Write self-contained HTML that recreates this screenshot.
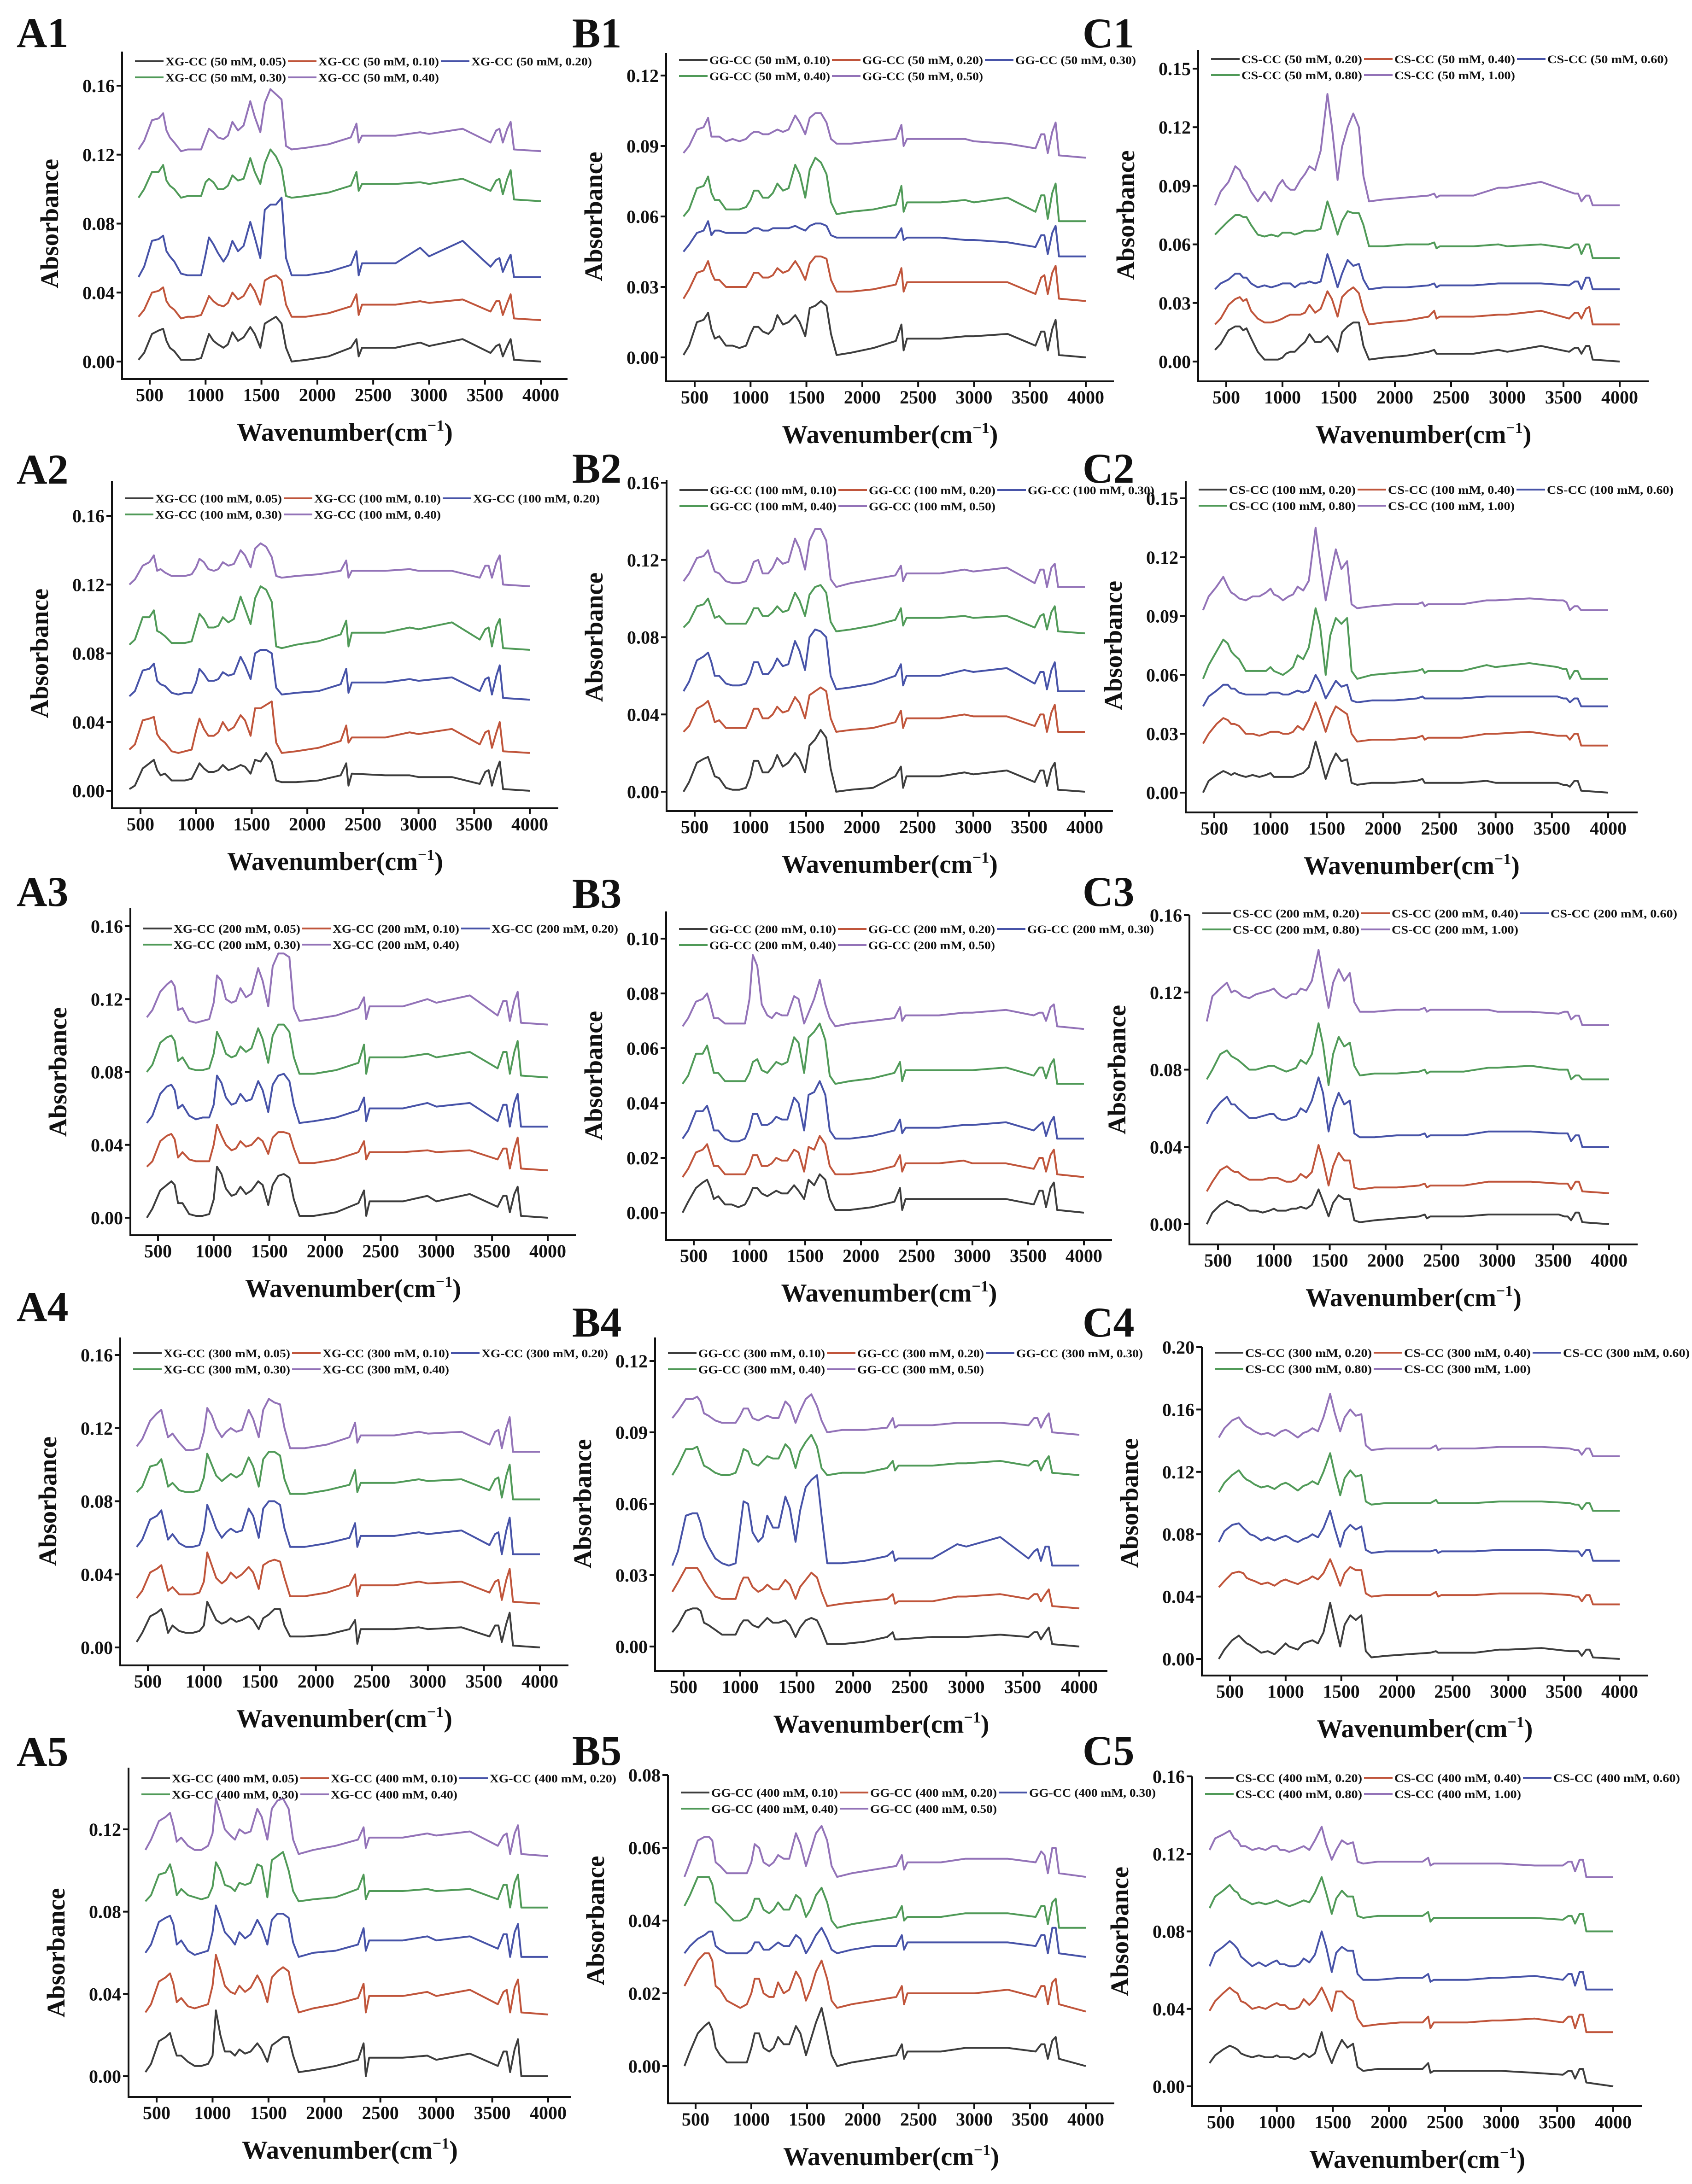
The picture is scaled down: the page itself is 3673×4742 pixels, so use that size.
<!DOCTYPE html>
<html><head><meta charset="utf-8"><title>FTIR spectra</title>
<style>html,body{margin:0;padding:0;background:#fff}svg{display:block}text{font-family:"Liberation Serif",serif;font-weight:bold;fill:#111}</style>
</head><body>
<svg id="fig" xmlns="http://www.w3.org/2000/svg" width="3673" height="4742" viewBox="0 0 3673 4742">
<rect x="0" y="0" width="3673" height="4742" fill="#fff"/>
</svg>
<script>
// wavenumber grid (cm-1)
const W=[400,450,520,580,620,650,680,720,780,840,900,960,1000,1030,1070,1110,1160,1200,1240,1290,1340,1400,1440,1490,1530,1580,1630,1680,1720,1770,1900,2100,2300,2350,2370,2400,2700,2920,3000,3300,3550,3600,3630,3660,3700,3730,3760,4000];
const xTicks=[500,1000,1500,2000,2500,3000,3500,4000];
// absorbance values in units of 0.001
const A1_k=[1,5,16,18,19,12,8,6,1,1,1,2,10,16,12,10,8,10,17,12,14,20,16,8,22,24,26,22,8,0,1,3,8,13,3,8,8,11,9,13,5,9,10,3,9,13,1,0];
const A1_r=[26,30,40,41,43,35,32,30,25,26,26,27,33,38,35,33,32,34,40,36,38,45,41,33,47,49,50,47,33,26,26,28,32,39,27,33,33,35,34,36,29,35,35,27,34,39,25,24];
const A1_b=[49,55,70,71,73,64,61,58,51,50,50,50,62,72,68,63,58,62,70,64,67,81,72,60,88,91,91,95,60,50,50,52,56,64,50,57,57,66,61,70,55,59,60,52,58,62,49,49];
const A1_g=[95,100,110,110,114,105,102,100,95,96,96,96,104,106,104,100,100,102,108,105,106,118,110,103,115,123,119,112,96,95,96,98,102,110,99,103,103,104,103,106,99,105,106,97,106,111,94,93];
const A1_p=[123,128,140,141,144,134,130,127,122,123,123,123,130,135,133,130,129,131,139,134,137,151,142,133,150,158,155,152,125,123,124,126,130,138,127,131,131,133,132,135,127,134,135,127,135,139,123,122];
const A2_k=[1,3,13,16,18,12,9,10,6,6,6,7,12,16,13,11,11,12,15,12,13,15,14,10,18,17,22,17,6,5,5,6,9,16,3,10,9,9,8,8,4,11,12,3,12,17,1,0];
const A2_r=[24,27,41,42,43,33,30,28,23,22,23,24,35,42,36,32,32,34,40,35,37,44,41,32,48,48,50,52,28,22,23,25,29,38,28,31,31,34,33,36,27,34,35,25,34,40,23,22];
const A2_b=[55,58,70,71,74,64,62,61,57,56,57,57,63,71,68,64,64,65,69,67,68,78,73,65,80,82,82,80,60,56,57,58,62,71,57,63,63,65,64,66,58,65,66,56,67,73,54,53];
const A2_g=[85,88,101,101,105,93,92,90,86,86,86,87,96,103,100,95,95,96,101,98,100,113,106,97,112,119,117,110,84,83,85,87,91,99,84,92,92,95,94,98,88,94,95,84,96,100,83,82];
const A2_p=[120,123,131,133,137,128,129,127,125,125,125,126,130,135,133,129,128,129,133,131,132,140,137,130,141,144,142,136,125,124,125,126,128,134,124,128,128,129,128,128,124,131,131,124,133,137,120,119];
const A3_k=[0,5,15,18,20,18,8,8,2,1,1,2,10,28,24,16,12,13,17,13,15,20,18,7,18,23,24,22,10,1,1,3,8,15,1,9,9,12,9,13,6,12,12,3,13,17,1,0];
const A3_r=[28,31,42,45,46,43,33,36,32,31,31,31,40,51,45,40,37,38,42,39,40,44,42,35,44,47,47,46,38,30,30,32,36,42,32,36,36,37,36,37,32,38,38,27,38,44,27,26];
const A3_b=[52,56,68,72,73,70,60,62,56,54,55,55,62,78,74,66,62,63,68,64,65,75,70,58,73,78,79,75,62,52,53,55,59,66,53,60,60,63,61,63,53,62,62,50,63,68,50,50];
const A3_g=[80,84,96,99,100,97,86,88,82,81,81,82,90,102,97,90,88,89,94,91,93,104,98,85,100,106,106,102,88,79,79,81,85,95,79,88,88,90,88,91,82,91,91,79,91,97,78,77];
const A3_p=[110,114,124,128,130,127,114,115,108,107,108,109,118,133,130,120,118,119,126,121,123,137,130,116,138,145,145,143,115,108,109,111,115,121,109,116,116,120,118,122,111,119,119,108,119,124,107,106];
const A4_k=[3,8,17,19,21,16,8,12,9,8,8,9,12,25,20,15,13,14,16,14,15,17,15,10,16,18,21,21,12,6,6,7,10,15,2,10,10,11,10,11,6,12,12,3,13,19,1,0];
const A4_r=[27,31,41,43,45,38,31,33,29,29,29,30,36,52,45,38,35,37,41,38,40,44,41,32,45,47,48,47,38,28,28,30,34,40,28,34,34,36,35,36,30,36,37,26,37,43,25,24];
const A4_b=[55,59,70,72,75,67,59,62,57,55,55,56,64,78,72,65,60,63,65,63,64,76,72,60,76,80,80,78,65,55,55,57,60,68,55,61,61,63,62,64,56,62,63,51,64,71,51,51];
const A4_g=[85,88,99,100,103,96,88,90,86,85,85,86,93,106,100,94,91,93,95,93,95,104,99,88,103,107,107,105,92,84,84,86,89,97,85,90,90,92,91,92,86,92,93,82,94,100,81,81];
const A4_p=[110,114,124,128,130,122,115,117,112,108,108,109,118,131,127,120,115,118,120,118,119,130,125,115,130,136,134,133,120,109,109,111,115,123,112,116,116,118,117,118,111,118,119,109,120,126,107,107];
const A5_k=[2,6,17,19,21,15,10,10,7,5,5,6,10,32,20,12,12,10,13,11,12,16,13,7,15,17,19,19,10,2,3,5,8,16,0,9,9,10,8,11,5,12,12,2,13,18,0,0];
const A5_r=[31,35,46,48,50,45,36,38,34,33,34,35,44,59,52,44,41,40,44,41,43,49,45,36,48,51,53,51,40,31,33,35,38,45,31,39,39,41,39,42,35,41,42,31,43,47,31,30];
const A5_b=[60,64,75,77,78,74,64,66,61,59,60,61,70,83,77,70,67,64,70,67,69,76,72,64,76,79,79,77,65,58,60,61,64,72,61,66,66,68,66,68,62,69,69,58,70,74,58,58];
const A5_g=[85,88,98,99,103,97,88,91,88,87,86,87,92,104,100,93,92,90,94,93,94,103,102,87,105,107,109,100,90,85,86,87,91,98,86,90,90,91,90,91,86,93,93,82,94,98,82,82];
const A5_p=[110,115,124,126,128,122,114,116,112,110,110,112,118,135,128,120,117,115,120,118,119,130,126,115,130,134,135,130,115,108,110,112,115,121,111,116,116,118,117,119,112,117,118,108,118,122,108,107];
const B1_k=[1,5,15,16,19,12,8,9,5,5,4,5,10,13,13,11,10,12,18,14,15,18,15,9,21,22,24,22,10,1,2,4,7,14,3,8,8,9,9,10,5,11,11,3,12,16,1,0];
const B1_r=[25,29,36,37,41,36,33,33,30,30,30,30,33,36,36,34,34,35,38,36,37,41,38,33,40,43,43,42,33,28,28,29,31,38,28,32,32,32,32,32,27,34,35,27,36,39,25,24];
const B1_b=[45,48,53,54,58,52,54,54,53,53,53,53,54,55,55,54,54,55,55,55,55,56,55,54,56,57,57,56,52,51,51,51,51,55,50,51,51,50,50,49,47,52,52,44,53,56,43,43];
const B1_g=[60,63,72,73,77,70,67,67,63,63,63,64,67,71,71,68,68,70,74,71,72,82,78,68,80,85,83,78,66,61,62,63,65,73,62,66,66,67,66,68,62,69,69,59,70,74,58,58];
const B1_p=[87,90,97,98,102,94,94,94,92,93,92,93,95,96,96,95,95,96,97,96,97,103,100,95,102,104,104,100,93,91,91,92,93,99,90,93,93,93,92,91,89,95,95,87,96,100,86,85];
const B2_k=[0,5,15,17,18,13,8,7,2,1,1,2,8,16,16,10,10,13,19,13,15,20,17,10,24,27,32,28,12,0,1,2,8,13,2,8,8,10,9,11,5,11,11,3,12,15,1,0];
const B2_r=[31,34,43,45,47,42,36,37,33,33,33,33,38,43,43,38,38,40,44,41,42,49,46,38,50,52,54,52,38,31,32,33,36,42,33,38,38,40,39,39,34,40,40,31,41,45,31,31];
const B2_b=[52,57,68,70,72,67,60,60,56,55,55,56,61,67,67,61,61,64,69,65,66,78,73,63,80,84,83,80,60,53,54,56,60,66,55,60,60,63,62,64,56,62,62,53,63,67,52,52];
const B2_g=[85,88,96,97,100,95,90,91,87,87,87,87,91,95,95,91,91,93,96,93,94,103,99,91,102,106,107,103,88,83,84,86,89,95,86,90,90,91,90,91,85,91,92,84,93,96,83,82];
const B2_p=[109,113,121,122,125,119,114,113,109,108,108,109,114,119,120,113,113,116,121,118,119,131,126,115,130,136,136,130,110,106,108,110,112,117,109,113,113,115,114,116,108,115,115,106,116,118,106,106];
const B3_k=[0,4,9,11,12,9,5,6,3,3,2,3,6,9,9,7,6,7,8,7,7,10,8,5,12,10,14,12,5,1,1,2,4,9,1,5,5,5,5,5,3,8,8,2,9,11,1,0];
const B3_r=[13,16,22,23,25,21,17,17,14,14,14,14,17,21,21,17,17,18,20,19,19,23,22,15,24,23,28,25,17,14,14,15,17,21,15,18,18,19,18,18,16,20,20,15,21,23,14,13];
const B3_b=[27,30,37,37,39,35,30,30,27,26,26,27,31,36,36,32,32,33,35,34,34,42,40,30,43,44,48,43,30,27,27,28,30,34,29,31,31,32,32,33,30,32,33,28,33,35,27,27];
const B3_g=[47,50,58,58,61,56,51,51,48,48,48,48,51,55,56,52,51,53,55,54,55,64,62,51,64,66,69,63,50,47,48,49,51,55,48,52,52,52,52,53,50,53,53,49,54,56,47,47];
const B3_p=[68,71,77,78,80,76,71,71,69,69,69,69,78,94,90,76,72,71,73,72,72,79,78,69,73,78,85,76,71,68,69,70,71,75,70,72,72,73,73,74,72,73,73,70,75,76,68,67];
const B4_k=[6,9,15,16,16,15,10,9,7,5,5,5,9,11,11,9,8,10,12,10,10,11,9,4,8,11,12,11,7,1,1,2,4,6,3,3,4,4,4,5,4,6,6,3,6,8,1,0];
const B4_r=[23,27,33,33,33,31,28,25,21,20,20,20,26,29,29,25,23,24,26,24,24,28,26,20,25,28,31,29,23,17,18,19,20,22,18,19,19,21,21,22,20,22,22,19,22,24,17,16];
const B4_b=[34,40,55,56,56,52,46,42,37,35,34,35,50,61,60,48,44,46,55,50,50,63,58,44,57,67,70,72,55,35,35,36,38,40,36,37,37,43,42,46,37,40,41,36,42,42,34,34];
const B4_g=[72,76,83,83,84,80,76,75,73,72,72,73,78,83,82,77,76,78,80,79,79,85,83,75,82,86,89,84,75,72,73,73,75,78,74,76,76,77,77,78,76,78,78,74,78,80,73,72];
const B4_p=[96,99,104,104,105,103,98,97,95,94,94,94,97,100,100,96,95,96,97,96,96,103,101,94,99,104,106,101,95,90,91,91,92,96,92,93,93,94,94,94,93,96,96,92,96,98,90,89];
const B5_k=[0,4,9,11,12,10,5,3,1,1,1,1,5,9,9,5,4,5,8,6,6,11,9,3,7,12,16,9,3,0,1,2,3,6,2,4,4,5,5,5,4,6,6,2,7,8,2,0];
const B5_r=[22,25,29,31,31,29,22,21,18,17,16,17,20,24,24,20,19,19,23,20,21,26,24,18,21,26,29,24,18,16,17,18,19,22,17,20,20,20,20,21,19,22,22,17,23,24,17,15];
const B5_b=[31,33,35,36,37,37,33,32,31,31,31,31,32,34,34,32,32,33,34,33,33,36,35,31,33,36,38,35,32,31,32,33,33,36,32,34,34,34,34,34,33,36,36,31,38,38,31,30];
const B5_g=[44,47,52,52,52,50,45,44,42,40,40,41,43,46,46,43,42,43,45,43,43,47,46,41,43,47,49,45,40,38,39,40,41,44,40,41,41,42,42,42,41,44,44,39,45,46,38,38];
const B5_p=[52,56,62,63,63,62,56,55,53,53,53,53,56,61,60,56,55,56,58,57,57,64,61,55,59,64,66,62,55,52,53,54,55,58,54,56,56,57,57,57,56,59,58,53,60,60,53,52];
const C1_k=[6,9,16,18,18,16,17,12,5,1,1,1,2,4,5,5,8,10,14,10,10,13,10,5,15,18,20,20,8,1,2,3,5,6,4,4,4,6,5,8,5,7,7,4,8,8,1,0];
const C1_r=[19,22,29,32,33,31,32,26,22,20,20,21,22,23,24,24,24,25,29,25,27,36,32,23,33,36,38,35,26,19,20,21,23,26,22,23,23,24,24,26,22,25,25,22,27,28,19,19];
const C1_b=[37,40,42,45,45,43,43,40,38,39,38,39,40,40,40,38,40,40,41,40,41,55,48,38,45,52,49,50,42,37,38,38,39,40,38,39,39,40,40,40,39,41,41,37,43,43,37,37];
const C1_g=[65,68,72,75,75,74,74,70,65,64,65,64,66,66,66,65,66,67,67,67,68,82,75,65,72,77,76,76,70,59,59,60,60,61,58,59,59,60,59,60,58,60,60,55,60,60,53,53];
const C1_p=[80,87,92,100,98,94,92,87,82,87,82,90,93,90,88,88,93,96,100,98,108,137,120,93,110,120,127,120,95,82,83,84,85,86,84,85,85,89,89,92,87,86,86,82,85,85,80,80];
const C2_k=[0,6,9,11,10,9,10,9,8,9,8,9,10,8,8,8,8,8,9,10,13,26,18,7,14,20,16,17,5,4,5,5,6,7,5,5,5,6,5,5,5,4,4,3,6,6,1,0];
const C2_r=[25,30,35,38,37,35,35,34,30,30,29,30,31,31,31,30,30,31,34,32,37,46,40,31,38,44,42,40,30,26,27,27,28,29,27,28,28,30,30,31,29,29,29,27,30,30,24,24];
const C2_b=[44,49,52,55,55,53,53,51,50,50,50,50,51,51,51,50,50,51,52,51,52,60,56,48,52,57,54,55,47,46,47,47,48,49,48,48,48,49,49,49,49,48,48,46,48,48,44,44];
const C2_g=[58,65,72,78,76,72,70,68,62,62,62,62,64,62,61,60,62,64,70,68,74,94,85,60,80,89,86,89,62,58,60,61,62,63,61,62,62,65,64,66,64,63,63,58,62,62,58,58];
const C2_p=[93,100,105,110,105,102,101,99,98,100,100,102,104,101,100,98,100,101,105,103,108,135,118,98,110,124,114,118,96,94,95,96,96,97,95,96,96,98,98,99,98,98,97,93,95,95,93,93];
const C3_k=[0,6,10,12,11,10,10,9,7,7,6,7,8,7,7,7,8,8,9,8,10,18,12,4,11,15,13,13,2,1,2,3,4,5,3,4,4,5,5,5,5,4,4,2,6,6,1,0];
const C3_r=[17,22,28,30,28,27,27,25,23,23,23,24,24,24,23,22,22,23,26,24,27,41,33,20,30,37,33,33,19,18,19,19,20,21,19,20,20,22,22,22,21,21,21,18,22,22,17,16];
const C3_b=[52,58,63,66,62,62,60,58,55,55,56,57,57,55,54,54,55,56,60,58,64,76,68,48,60,68,62,64,47,45,45,46,46,47,45,46,46,48,48,48,47,47,47,43,46,46,40,40];
const C3_g=[75,80,88,90,87,86,85,83,80,80,81,82,82,81,80,79,80,81,85,83,88,104,93,72,88,97,92,94,82,77,78,78,79,80,78,79,79,81,81,82,80,80,80,75,77,77,75,75];
const C3_p=[105,118,122,125,120,121,120,118,117,119,120,121,122,120,118,117,119,119,122,121,126,142,128,112,125,132,126,130,115,110,110,111,111,112,110,111,111,111,110,110,109,110,110,106,108,108,103,103];
const C4_k=[0,6,12,15,12,10,9,7,4,5,3,7,10,8,7,6,10,11,12,10,17,36,23,8,22,28,25,28,5,1,2,3,4,5,4,4,4,6,6,7,5,5,5,2,6,6,1,0];
const C4_r=[46,50,55,56,55,52,51,50,48,49,47,50,51,50,49,48,50,51,53,51,55,64,57,47,55,59,57,57,42,40,41,41,41,43,40,41,41,42,42,42,41,40,40,37,41,41,35,35];
const C4_b=[75,82,86,87,84,82,80,79,76,78,76,78,79,78,76,75,77,78,80,78,84,95,84,72,82,86,83,85,70,68,69,69,69,70,68,69,69,70,70,70,69,69,69,66,70,70,63,63];
const C4_g=[107,113,118,121,117,115,114,112,110,111,109,112,113,112,110,108,111,112,114,112,120,132,119,105,116,121,117,118,101,99,100,100,100,102,100,100,100,101,101,101,100,99,99,96,100,100,95,95];
const C4_p=[142,148,153,155,151,149,148,146,144,145,143,146,147,146,144,142,145,146,148,146,155,170,158,146,155,160,156,157,137,134,135,135,135,137,134,135,135,136,136,136,135,134,134,131,135,135,130,130];
const C5_k=[12,16,19,21,20,19,17,16,15,16,15,15,16,15,15,15,14,15,17,15,17,28,19,12,18,24,20,22,10,8,9,9,9,12,7,8,8,8,8,7,6,8,8,4,9,9,2,0];
const C5_r=[39,44,48,51,49,48,44,43,40,41,40,42,43,42,42,40,40,41,45,42,45,51,46,39,49,49,46,44,35,31,32,33,33,36,30,33,33,34,34,35,33,36,36,30,37,37,28,28];
const C5_b=[62,69,72,75,73,71,67,65,62,64,62,64,65,63,63,62,62,63,66,64,68,80,72,59,69,72,70,70,58,55,55,56,56,58,54,55,55,56,56,57,55,58,58,52,59,59,50,50];
const C5_g=[92,98,101,104,101,100,97,96,94,95,94,95,96,95,94,93,94,95,96,95,100,108,100,89,97,101,98,98,88,87,88,88,88,90,85,87,87,87,87,87,86,88,88,84,89,89,80,80];
const C5_p=[122,128,130,132,128,127,124,124,122,123,122,124,124,122,122,121,122,123,124,122,127,134,125,117,122,127,125,126,116,115,116,116,116,118,114,115,115,115,115,114,114,116,116,111,117,117,108,108];
// y tick labels
const yt16=[0,0.04,0.08,0.12,0.16];
const yt12a=[0,0.04,0.08,0.12];
const yt12=[0,0.03,0.06,0.09,0.12];
const yt15=[0,0.03,0.06,0.09,0.12,0.15];
const yt10=[0,0.02,0.04,0.06,0.08,0.10];
const yt08=[0,0.02,0.04,0.06,0.08];
const yt20=[0,0.04,0.08,0.12,0.16,0.20];
// legend labels
const concXG=['0.05','0.10','0.20','0.30','0.40'];
const concGG=['0.10','0.20','0.30','0.40','0.50'];
const concCS=['0.20','0.40','0.60','0.80','1.00'];
const COLORS=['#3d3d3d','#c0553b','#4753a8','#509a58','#9373b8'];
const NS='http://www.w3.org/2000/svg';
const svg=document.getElementById('fig');
function el(tag,attrs,parent){const e=document.createElementNS(NS,tag);for(const k in attrs)e.setAttribute(k,attrs[k]);(parent||svg).appendChild(e);return e;}
// panel layout (pixels)
const panels=[
 {id:'A1',pre:'XG-CC',mm:50,conc:concXG,s:[A1_k,A1_r,A1_b,A1_g,A1_p],yt:yt16,L:265,X:823,y0:785,ytp:186,T:112,R:1232,x5:325,x40:1174,lg:133,lx:36,ly:102},
 {id:'A2',pre:'XG-CC',mm:100,conc:concXG,s:[A2_k,A2_r,A2_b,A2_g,A2_p],yt:yt16,L:243,X:1755,y0:1717,ytp:1120,T:1044,R:1212,x5:305,x40:1150,lg:1082,lx:36,ly:1050},
 {id:'A3',pre:'XG-CC',mm:200,conc:concXG,s:[A3_k,A3_r,A3_b,A3_g,A3_p],yt:yt16,L:283,X:2682,y0:2644,ytp:2011,T:1971,R:1250,x5:343,x40:1189,lg:2016,lx:36,ly:1967},
 {id:'A4',pre:'XG-CC',mm:300,conc:concXG,s:[A4_k,A4_r,A4_b,A4_g,A4_p],yt:yt16,L:261,X:3616,y0:3577,ytp:2942,T:2904,R:1234,x5:321,x40:1172,lg:2938,lx:36,ly:2868},
 {id:'A5',pre:'XG-CC',mm:400,conc:concXG,s:[A5_k,A5_r,A5_b,A5_g,A5_p],yt:yt12a,L:279,X:4553,y0:4508,ytp:3972,T:3838,R:1240,x5:340,x40:1190,lg:3861,lx:36,ly:3834},
 {id:'B1',pre:'GG-CC',mm:50,conc:concGG,s:[B1_k,B1_r,B1_b,B1_g,B1_p],yt:yt12,L:1446,X:828,y0:776,ytp:164,T:115,R:2418,x5:1508,x40:2357,lg:130,lx:1242,ly:103},
 {id:'B2',pre:'GG-CC',mm:100,conc:concGG,s:[B2_k,B2_r,B2_b,B2_g,B2_p],yt:yt16,L:1447,X:1761,y0:1719,ytp:1048,T:1042,R:2416,x5:1508,x40:2355,lg:1064,lx:1242,ly:1048},
 {id:'B3',pre:'GG-CC',mm:200,conc:concGG,s:[B3_k,B3_r,B3_b,B3_g,B3_p],yt:yt10,L:1446,X:2692,y0:2633,ytp:2038,T:1979,R:2414,x5:1506,x40:2353,lg:2017,lx:1242,ly:1971},
 {id:'B4',pre:'GG-CC',mm:300,conc:concGG,s:[B4_k,B4_r,B4_b,B4_g,B4_p],yt:yt12,L:1422,X:3628,y0:3575,ytp:2955,T:2904,R:2404,x5:1484,x40:2343,lg:2938,lx:1242,ly:2902},
 {id:'B5',pre:'GG-CC',mm:400,conc:concGG,s:[B5_k,B5_r,B5_b,B5_g,B5_p],yt:yt08,L:1450,X:4567,y0:4486,ytp:3854,T:3854,R:2419,x5:1510,x40:2357,lg:3892,lx:1242,ly:3832},
 {id:'C1',pre:'CS-CC',mm:50,conc:concCS,s:[C1_k,C1_r,C1_b,C1_g,C1_p],yt:yt15,L:2601,X:828,y0:785,ytp:149,T:109,R:3579,x5:2662,x40:3516,lg:128,lx:2350,ly:103},
 {id:'C2',pre:'CS-CC',mm:100,conc:concCS,s:[C2_k,C2_r,C2_b,C2_g,C2_p],yt:yt15,L:2574,X:1764,y0:1721,ytp:1082,T:1045,R:3555,x5:2636,x40:3491,lg:1063,lx:2350,ly:1048},
 {id:'C3',pre:'CS-CC',mm:200,conc:concCS,s:[C3_k,C3_r,C3_b,C3_g,C3_p],yt:yt16,L:2582,X:2702,y0:2658,ytp:1987,T:1987,R:3555,x5:2644,x40:3493,lg:1983,lx:2350,ly:1967},
 {id:'C4',pre:'CS-CC',mm:300,conc:concCS,s:[C4_k,C4_r,C4_b,C4_g,C4_p],yt:yt20,L:2609,X:3638,y0:3602,ytp:2925,T:2925,R:3577,x5:2670,x40:3516,lg:2937,lx:2350,ly:2902},
 {id:'C5',pre:'CS-CC',mm:400,conc:concCS,s:[C5_k,C5_r,C5_b,C5_g,C5_p],yt:yt16,L:2588,X:4573,y0:4530,ytp:3857,T:3857,R:3565,x5:2650,x40:3502,lg:3860,lx:2350,ly:3832}
];
panels.forEach(p=>{
 const g=el('g',{});
 
 
 const vmax=p.yt[p.yt.length-1];
 const xs=v=>p.x5+(v-500)*(p.x40-p.x5)/3500;
 const ys=v=>p.y0-(v/vmax)*(p.y0-p.ytp);
 const lab=el('text',{x:p.lx,y:p.ly,'font-size':92},g);lab.textContent=p.id;
 
 
 const ax=el('path',{d:`M${p.L} ${p.T} V${p.X} H${p.R}`,fill:'none',stroke:'#111','stroke-width':4},g);
 
 
 p.yt.forEach(t=>{const y=ys(t);
  el('line',{x1:p.L-12,x2:p.L,y1:y,y2:y,stroke:'#111','stroke-width':4},g);
  const tx=el('text',{x:p.L-16,y:y+14,'font-size':40,'text-anchor':'end'},g);tx.textContent=t.toFixed(2);
  
  });
 xTicks.forEach(t=>{const x=xs(t);
  el('line',{x1:x,x2:x,y1:p.X,y2:p.X+12,stroke:'#111','stroke-width':4},g);
  const tx=el('text',{x:x,y:p.X+48,'font-size':40,'text-anchor':'middle'},g);tx.textContent=t;
  
  });
 const yc=(p.y0+p.ytp)/2, xcT=p.L-157;
 const yl=el('text',{x:xcT,y:yc,'font-size':55,'text-anchor':'middle',transform:`rotate(-90 ${xcT} ${yc})`,dy:18},g);yl.textContent='Absorbance';
 
 
 const xl=el('text',{x:(p.L+p.R)/2,y:p.X+134,'font-size':56,'text-anchor':'middle'},g);
 
 
 xl.appendChild(document.createTextNode('Wavenumber(cm'));
 const sup=el('tspan',{'font-size':34,dy:-22},xl);sup.textContent='−1';
 const cl=el('tspan',{dy:22},xl);cl.textContent=')';
 p.s.forEach((arr,i)=>{
  const d=arr.map((v,j)=>(j?'L':'M')+xs(W[j]).toFixed(1)+' '+ys(v/1000).toFixed(1)).join(' ');
  const ln=el('path',{d:d,fill:'none',stroke:COLORS[i],'stroke-width':4,'stroke-linejoin':'round'},g);
  
  
 });
 const tl=p.mm===50?262:275;
 p.conc.forEach((c,i)=>{
  const col=i%3,row=Math.floor(i/3);
  const x=p.L+28+col*(tl+70), y=p.lg+row*35;
  const lg=el('g',{},g);
  
  
  el('line',{x1:x,x2:x+62,y1:y,y2:y,stroke:COLORS[i],'stroke-width':4},lg);
  const t=el('text',{x:x+66,y:y+9,'font-size':25,textLength:tl,lengthAdjust:'spacingAndGlyphs'},lg);
  t.textContent=`${p.pre} (${p.mm} mM, ${c})`;
 });
});
</script>
</body></html>
